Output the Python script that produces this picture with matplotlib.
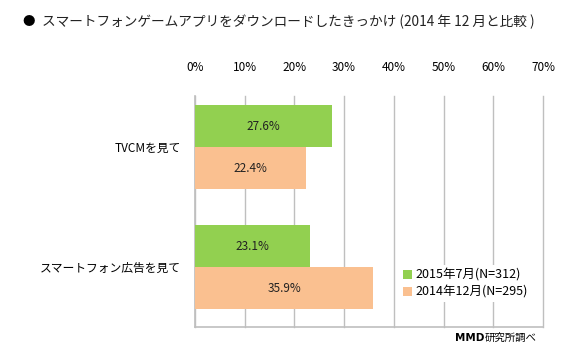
import matplotlib
matplotlib.use("Agg")
import matplotlib.pyplot as plt
from matplotlib.patches import Patch

plt.rcParams['font.family'] = ['Noto Sans CJK JP', 'DejaVu Sans']

# データ
categories = ['TVCMを見て', 'スマートフォン広告を見て']
series_names = ['2015年7月(N=312)', '2014年12月(N=295)']
values_2015 = [27.6, 23.1]
values_2014 = [22.4, 35.9]
ticks = [0, 10, 20, 30, 40, 50, 60, 70]
colors = ['#92D050', '#FAC090']

fig = plt.figure(figsize=(5.81, 3.48), dpi=100)
ax = fig.add_axes([0.3356, 0.0603, 0.5990, 0.6638])

# 棒グラフ（グループごとに2本）
h = 0.35
ys = list(range(len(categories)))
for i, (vals, c) in enumerate(zip([values_2015, values_2014], colors)):
    pos = [y - h / 2 + i * h for y in ys]
    ax.barh(pos, vals, height=h, color=c, zorder=3)
    for p, v in zip(pos, vals):
        ax.text(v / 2, p, f'{v}%', ha='center', va='center', fontsize=8.5,
                color='#222222', zorder=4)

ax.set_xlim(0, 70)
ax.set_ylim(1.5, -0.425)
ax.set_xticks(ticks)
ax.set_xticklabels([f'{t}%' for t in ticks], fontsize=8.5)
ax.xaxis.tick_top()
ax.tick_params(axis='x', length=0, pad=16)
ax.set_yticks(ys)
ax.set_yticklabels(categories, fontsize=8.5)
ax.tick_params(axis='y', length=0, pad=10)
ax.grid(axis='x', color='#BFBFBF', linewidth=1, zorder=0)
for gl in ax.get_xgridlines():
    gl.set_clip_on(False)

for s in ['top', 'right']:
    ax.spines[s].set_visible(False)
for s in ['left', 'bottom']:
    ax.spines[s].set_color('#BFBFBF')
    ax.spines[s].set_linewidth(1.2)

# 凡例（白背景・枠なし）
handles = [Patch(facecolor=c, edgecolor='none') for c in colors]
leg = ax.legend(handles, series_names, loc='lower right',
                bbox_to_anchor=(0.985, 0.08), fontsize=9, frameon=True,
                fancybox=False, handlelength=0.7, handleheight=0.7,
                handletextpad=0.3, borderpad=0.3, labelspacing=0.3)
leg.get_frame().set_edgecolor('none')
leg.get_frame().set_facecolor('white')
leg.get_frame().set_alpha(1)
leg.set_zorder(5)

# タイトル
fig.text(0.038, 0.937, '●', fontsize=9, va='center')
fig.text(0.072, 0.937, 'スマートフォンゲームアプリをダウンロードしたきっかけ (2014 年 12 月と比較 )',
         fontsize=9.85, va='center', color='#222222')

# 出典
mmd = fig.text(0.783, 0.028, 'MMD', fontsize=7.5, fontweight='bold', ha='left', va='center',
               family=['DejaVu Sans'])
ax.annotate('研究所調べ', xy=(1, 0.5), xycoords=mmd, fontsize=7.5, ha='left', va='center',
            annotation_clip=False)

fig.savefig('out.png', dpi=100)
